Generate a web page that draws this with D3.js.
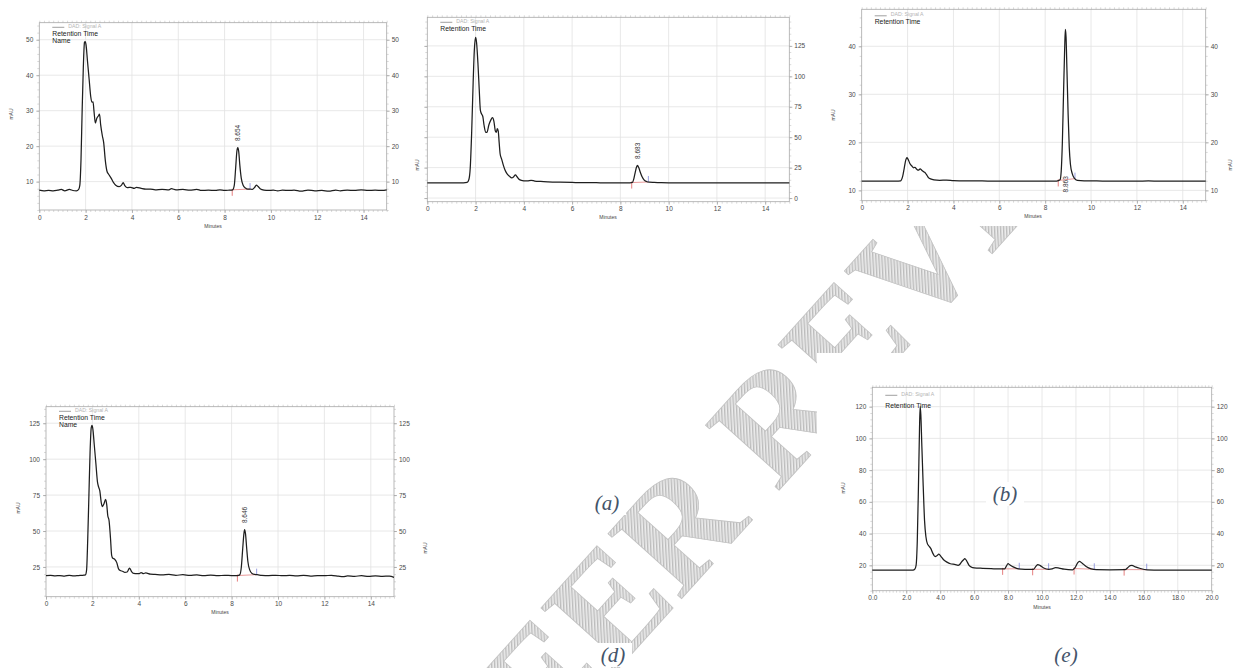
<!DOCTYPE html>
<html>
<head>
<meta charset="utf-8">
<script src="https://cdn.jsdelivr.net/npm/d3@7"></script>
<style>
  body { margin: 0; background: #ffffff; }
  svg { display: block; font-family: "Liberation Sans", Arial, sans-serif; }
</style>
</head>
<body>
<svg id="chart" width="1233" height="668"></svg>
<script>
// ---------------- DATA ----------------
const panelLabels = ["(a)", "(b)", "(d)", "(e)"];
const watermarkText = "PEER REVIEW";
const legendSeries = "DAD: Signal A";
const legendTitle = "Retention Time";
const legendName = "Name";
const xAxisTitle = "Minutes";
const yAxisTitle = "mAU";

const xTicks15 = [0, 2, 4, 6, 8, 10, 12, 14];
const xTicks20 = [0, 2, 4, 6, 8, 10, 12, 14, 16, 18, 20];
const yTicksA = [10, 20, 30, 40, 50];
const yTicksB = [0, 25, 50, 75, 100, 125];
const yTicksC = [10, 20, 30, 40];
const yTicksD = [25, 50, 75, 100, 125];
const yTicksE = [20, 40, 60, 80, 100, 120];

const peakLabelA = "8.654";
const peakLabelB = "8.683";
const peakLabelC = "8.863";
const peakLabelD = "8.646";

const peakStartA = [8.33], peakEndA = [9.1];
const peakStartB = [8.47], peakEndB = [9.16];
const peakStartC = [8.57], peakEndC = [9.3];
const peakStartD = [8.25], peakEndD = [9.08];
const peakStartE = [7.68, 9.45, 11.89, 14.84];
const peakEndE   = [8.66, 10.39, 13.08, 16.17];

// signal traces: [minutes, mAU]
const signalA = [[0,7.6],[0.2,7.4],[0.4,7.5],[0.6,7.4],[0.8,7.6],[0.95,7.8],[1.1,7.4],[1.3,7.8],[1.45,7.5],[1.6,7.4],
  [1.7,7.8],[1.75,9],[1.8,16],[1.85,30],[1.9,42],[1.95,49.2],[1.98,49.5],[2.02,48.5],[2.08,44],[2.15,39],
  [2.22,34],[2.27,32.4],[2.32,32.5],[2.36,30],[2.42,26.5],[2.48,27.8],[2.55,28.5],[2.6,29],[2.65,26],[2.72,23],
  [2.78,21],[2.85,16],[2.92,13],[3.0,12],[3.1,11],[3.2,9.8],[3.3,9],[3.45,8.6],[3.55,9],[3.62,9.7],
  [3.7,8.8],[3.8,8.3],[3.95,8.4],[4.1,8.1],[4.2,8.4],[4.4,8.1],[4.6,7.9],[4.8,7.9],[5.0,7.7],[5.3,7.8],
  [5.6,7.7],[5.7,8.0],[5.9,7.7],[6.2,7.8],[6.5,7.6],[6.8,7.8],[7.0,7.5],[7.3,7.6],[7.6,7.5],[7.8,7.7],
  [8.0,7.5],[8.2,7.6],[8.35,7.7],[8.42,9],[8.48,14],[8.53,18.5],[8.57,19.6],[8.61,18.5],[8.66,14.5],[8.72,11],
  [8.8,9],[8.9,8.2],[9.0,7.9],[9.1,7.9],[9.2,7.8],[9.3,8.4],[9.37,9.0],[9.45,8.6],[9.55,7.9],[9.7,7.6],
  [9.9,7.5],[10.1,7.6],[10.3,7.4],[10.5,7.6],[10.8,7.5],[11.0,7.6],[11.3,7.3],[11.6,7.6],[11.9,7.4],[12.2,7.5],
  [12.5,7.3],[12.8,7.6],[13.0,7.4],[13.3,7.6],[13.6,7.5],[13.9,7.7],[14.2,7.5],[14.5,7.6],[14.8,7.5],[15,7.7]];

const signalB = [[0,12.5],[0.5,12.5],[1.0,12.5],[1.5,12.5],[1.65,12.8],[1.72,15],[1.78,25],[1.84,55],[1.9,95],[1.95,122],
  [2.0,132],[2.04,128],[2.1,110],[2.15,90],[2.2,72],[2.25,69],[2.3,67],[2.35,60],[2.42,54],[2.47,54],
  [2.55,60],[2.63,64],[2.7,66],[2.76,63],[2.82,55],[2.86,54],[2.9,57],[2.94,55],[2.98,45],[3.02,36],
  [3.08,32],[3.15,27],[3.22,23],[3.3,20],[3.4,18],[3.5,16.5],[3.58,17.5],[3.65,19],[3.72,17.5],[3.8,15.5],
  [3.9,14.5],[4.0,14.2],[4.15,14.1],[4.3,14.6],[4.45,14],[4.7,13.6],[5.0,13.3],[5.5,13],[6.0,12.8],[6.5,12.7],
  [7.0,12.6],[7.5,12.5],[8.0,12.5],[8.4,12.5],[8.5,12.8],[8.56,16],[8.62,21.5],[8.67,25.5],[8.71,26.8],[8.76,25],
  [8.83,21],[8.9,17.5],[8.98,15],[9.08,13.6],[9.2,13],[9.4,12.8],[9.7,12.6],[10,12.5],[11,12.4],[12,12.4],
  [13,12.4],[14,12.4],[15,12.4]];

const signalC = [[0,11.9],[0.5,11.9],[1,11.9],[1.5,11.9],[1.7,12.0],[1.78,12.8],[1.85,14.5],[1.92,16.3],[1.97,16.8],[2.02,16.5],
  [2.1,15.6],[2.2,15.0],[2.26,14.7],[2.32,14.8],[2.4,14.4],[2.47,14.2],[2.55,14.5],[2.62,14.2],[2.7,13.9],[2.78,13.6],
  [2.85,13.1],[2.92,12.6],[3.0,12.4],[3.15,12.2],[3.4,12.1],[3.7,12.15],[4.0,12.05],[4.5,12.0],[5.0,12.0],[5.5,11.95],
  [6,11.95],[6.5,11.9],[7,11.95],[7.5,11.9],[8.0,11.9],[8.5,11.95],[8.65,12.2],[8.7,14],[8.75,20],[8.8,30],
  [8.85,39.5],[8.88,43.5],[8.91,42],[8.95,35],[9.0,26],[9.05,19],[9.1,15.5],[9.18,13.5],[9.28,12.5],[9.4,12.1],
  [9.7,12.0],[10,12.0],[10.5,11.95],[11,11.95],[12,11.9],[12.5,12.0],[13,11.9],[13.5,11.95],[14,11.9],[14.5,11.9],[15,11.9]];

const signalD = [[0,19],[0.2,19.2],[0.4,18.8],[0.6,19],[0.8,18.6],[1.0,19.2],[1.2,18.8],[1.4,19],[1.6,19.2],[1.7,19.5],
  [1.75,23],[1.8,45],[1.85,75],[1.9,105],[1.95,122],[1.98,123.5],[2.02,121],[2.08,110],[2.15,97],[2.22,84],
  [2.27,80.5],[2.32,78],[2.38,70],[2.43,67],[2.5,69],[2.57,72],[2.62,68],[2.66,61],[2.72,57],[2.78,45],
  [2.83,33],[2.88,31],[2.95,30.5],[3.05,28],[3.12,24],[3.2,22.5],[3.3,22],[3.4,21.2],[3.5,21.5],[3.6,24.2],
  [3.68,22],[3.78,20.5],[3.9,20.4],[4.0,20.3],[4.1,21],[4.2,20.4],[4.3,20.8],[4.5,20],[4.7,19.8],[5.0,19.5],
  [5.3,19.8],[5.6,19.2],[5.9,19.6],[6.2,19.1],[6.5,19.4],[6.8,19],[7.1,19.3],[7.4,18.9],[7.7,19.2],[8.0,19],
  [8.25,19],[8.35,19.5],[8.42,25],[8.48,38],[8.53,48],[8.56,51],[8.6,48],[8.65,38],[8.7,29],[8.78,23],
  [8.88,20.5],[9.0,19.8],[9.15,19.5],[9.3,19.2],[9.6,19],[9.9,19.2],[10.2,18.9],[10.5,19.1],[10.8,18.8],[11.1,19.1],
  [11.4,18.7],[11.7,19],[12.0,18.9],[12.3,19.2],[12.6,18.6],[12.8,18.2],[13.0,18.8],[13.3,18.5],[13.6,18.9],[13.9,18.4],
  [14.2,18.8],[14.5,18.5],[14.8,18.6],[15,17.8]];

const signalE = [[0,17],[1,17],[2,17],[2.4,17],[2.5,17.5],[2.58,20],[2.65,35],[2.72,70],[2.78,105],[2.82,120],
  [2.86,115],[2.92,95],[3.0,70],[3.08,48],[3.16,38],[3.25,33.5],[3.35,32],[3.45,30.5],[3.55,28],[3.7,25.5],
  [3.8,26],[3.92,27],[4.05,25.5],[4.2,23.5],[4.4,22],[4.6,21],[4.9,20.5],[5.05,20],[5.15,20.5],[5.25,22],
  [5.38,23.5],[5.45,24.2],[5.55,23],[5.7,20],[5.85,18.8],[6.0,18.4],[6.5,18.1],[7.0,17.9],[7.5,17.7],[7.8,17.8],
  [7.9,19.5],[8.0,21],[8.1,20.3],[8.3,19],[8.5,18.1],[8.8,17.6],[9.2,17.4],[9.5,17.5],[9.65,19.5],[9.75,20.5],
  [9.9,19.8],[10.1,18.3],[10.4,17.5],[10.6,17.8],[10.8,18.6],[11.0,18.3],[11.3,17.6],[11.8,17.2],[11.95,18.5],[12.1,21.5],
  [12.2,22.5],[12.35,21.5],[12.6,19.3],[12.9,17.8],[13.2,17.3],[14,17.2],[14.9,17.3],[15.05,18.5],[15.2,19.8],[15.3,20],
  [15.5,19],[15.8,18],[16.2,17.2],[17,17],[18,17],[19,17],[20,17]];

// ---------------- LAYOUT ----------------
const panels = [
  { data: signalA, xDomain: [0, 15], yDomain: [2, 54.8], xTicks: xTicks15, yTicks: yTicksA, fmt: d3.format("d"),
    x0: 39.3, x1: 386.7, y0: 22.7, y1: 210, box: [0, 0, 408, 236], leftLabels: true, rightLabels: true,
    legendLines: [legendTitle, legendName], dadDy: 3.8, rtDy: 12.8,
    peakText: peakLabelA, peakBelow: false, starts: peakStartA, ends: peakEndA,
    mauL: [11, 114], mauR: null, minutes: [213, 226] },
  { data: signalB, xDomain: [0, 15], yDomain: [-3, 148.5], xTicks: xTicks15, yTicks: yTicksB, fmt: d3.format("d"),
    x0: 427.3, x1: 789.3, y0: 17.3, y1: 201.7, box: [408, 0, 408, 229], leftLabels: false, rightLabels: true,
    legendLines: [legendTitle], dadDy: 4.2, rtDy: 13.2,
    peakText: peakLabelB, peakBelow: false, starts: peakStartB, ends: peakEndB,
    mauL: [417, 165], mauR: [820, 162], minutes: [608, 217] },
  { data: signalC, xDomain: [0, 15], yDomain: [7.85, 47.7], xTicks: xTicks15, yTicks: yTicksC, fmt: d3.format("d"),
    x0: 861.7, x1: 1205.7, y0: 9.3, y1: 200.7, box: [816, 0, 417, 226], leftLabels: true, rightLabels: true,
    legendLines: [legendTitle], dadDy: 5.7, rtDy: 14.2,
    peakText: peakLabelC, peakBelow: true, starts: peakStartC, ends: peakEndC,
    mauL: [833, 115], mauR: [1230, 165], minutes: [1033, 216] },
  { data: signalD, xDomain: [0, 15], yDomain: [4.3, 136.5], xTicks: xTicks15, yTicks: yTicksD, fmt: d3.format("d"),
    x0: 46, x1: 394, y0: 406.7, y1: 596.7, box: [0, 392, 432, 232], leftLabels: true, rightLabels: true,
    legendLines: [legendTitle, legendName], dadDy: 3.8, rtDy: 12.8,
    peakText: peakLabelD, peakBelow: false, starts: peakStartD, ends: peakEndD,
    mauL: [18, 508], mauR: [425, 548], minutes: [220, 612] },
  { data: signalE, xDomain: [0, 20], yDomain: [4, 132.2], xTicks: xTicks20, yTicks: yTicksE, fmt: d3.format(".1f"),
    x0: 872.3, x1: 1211.7, y0: 387.3, y1: 590.7, box: [817, 353, 416, 266], leftLabels: true, rightLabels: true,
    legendLines: [legendTitle], dadDy: 7.2, rtDy: 20.2,
    peakText: null, peakBelow: false, starts: peakStartE, ends: peakEndE,
    mauL: [843, 488], mauR: null, minutes: [1042, 607] }
];

const labelPos = [[607, 503], [1005, 494], [613, 655], [1066, 655]];

// ---------------- DRAW ----------------
const svg = d3.select("#chart");
const defs = svg.append("defs");
const pat = defs.append("pattern").attr("id", "hatch").attr("patternUnits", "userSpaceOnUse")
  .attr("width", 3).attr("height", 3).attr("patternTransform", "rotate(45)");
pat.append("rect").attr("width", 3).attr("height", 3).attr("fill", "#ececec");
pat.append("line").attr("x1", 0.75).attr("y1", 0).attr("x2", 0.75).attr("y2", 3)
  .attr("stroke", "#b0b0b0").attr("stroke-width", 1.1);

// watermark (behind panels)
svg.append("text").text(watermarkText)
  .attr("transform", "translate(484,818) rotate(-48)")
  .attr("font-family", "'Liberation Serif', 'Times New Roman', serif")
  .attr("font-weight", "bold")
  .attr("font-size", 150)
  .attr("fill", "url(#hatch)")
  .attr("stroke", "#c2c2c2").attr("stroke-width", 0.8);

function valueAt(data, t) {
  const i = d3.bisector(d => d[0]).left(data, t);
  if (i <= 0) return data[0][1];
  if (i >= data.length) return data[data.length - 1][1];
  const a = data[i - 1], b = data[i];
  return a[1] + (b[1] - a[1]) * (t - a[0]) / (b[0] - a[0]);
}

function drawPanel(p) {
  const g = svg.append("g");
  g.append("rect").attr("x", p.box[0]).attr("y", p.box[1]).attr("width", p.box[2]).attr("height", p.box[3])
    .attr("fill", "#ffffff");

  const x = d3.scaleLinear().domain(p.xDomain).range([p.x0, p.x1]);
  const y = d3.scaleLinear().domain(p.yDomain).range([p.y1, p.y0]);

  // grid
  g.append("g").selectAll("line").data(p.xTicks.filter(t => t > p.xDomain[0] && t < p.xDomain[1])).join("line")
    .attr("x1", d => x(d)).attr("x2", d => x(d)).attr("y1", p.y0).attr("y2", p.y1)
    .attr("stroke", "#e2e2e2").attr("stroke-width", 0.8);
  g.append("g").selectAll("line").data(p.yTicks).join("line")
    .attr("x1", p.x0).attr("x2", p.x1).attr("y1", d => y(d)).attr("y2", d => y(d))
    .attr("stroke", "#e2e2e2").attr("stroke-width", 0.8);

  // minor ticks
  const xStep = (p.xTicks[1] - p.xTicks[0]) / 10;
  const xMinor = d3.range(p.xDomain[0], p.xDomain[1] + 1e-9, xStep);
  const yStep = (p.yTicks[1] - p.yTicks[0]) / 5;
  const yMinor = d3.range(Math.ceil(p.yDomain[0] / yStep) * yStep, p.yDomain[1], yStep);

  function styleAxis(sel) {
    sel.select(".domain").remove();
    sel.selectAll(".tick line").attr("stroke", "#9a9a9a").attr("stroke-width", 0.7);
    sel.selectAll(".tick text").attr("fill", "#4a4a4a").attr("font-size", 6.5);
  }
  const minorStyle = sel => { sel.select(".domain").remove(); sel.selectAll(".tick line").attr("stroke", "#b5b5b5").attr("stroke-width", 0.5); };

  g.append("g").attr("transform", `translate(0,${p.y1})`)
    .call(d3.axisBottom(x).tickValues(xMinor).tickSize(2).tickFormat("")).call(minorStyle);
  g.append("g").attr("transform", `translate(0,${p.y0})`)
    .call(d3.axisTop(x).tickValues(xMinor).tickSize(2).tickFormat("")).call(minorStyle);
  g.append("g").attr("transform", `translate(${p.x0},0)`)
    .call(d3.axisLeft(y).tickValues(yMinor).tickSize(2).tickFormat("")).call(minorStyle);
  g.append("g").attr("transform", `translate(${p.x1},0)`)
    .call(d3.axisRight(y).tickValues(yMinor).tickSize(2).tickFormat("")).call(minorStyle);

  g.append("g").attr("transform", `translate(0,${p.y1})`)
    .call(d3.axisBottom(x).tickValues(p.xTicks).tickSize(3).tickPadding(2).tickFormat(p.fmt)).call(styleAxis);
  g.append("g").attr("transform", `translate(${p.x0},0)`)
    .call(d3.axisLeft(y).tickValues(p.yTicks).tickSize(3).tickPadding(3)
      .tickFormat(p.leftLabels ? d3.format("d") : "")).call(styleAxis);
  g.append("g").attr("transform", `translate(${p.x1},0)`)
    .call(d3.axisRight(y).tickValues(p.yTicks).tickSize(3).tickPadding(2)
      .tickFormat(p.rightLabels ? d3.format("d") : "")).call(styleAxis);

  // frame
  g.append("rect").attr("x", p.x0).attr("y", p.y0).attr("width", p.x1 - p.x0).attr("height", p.y1 - p.y0)
    .attr("fill", "none").attr("stroke", "#a8a8a8").attr("stroke-width", 0.8);

  // integration markers
  p.starts.forEach((s, i) => {
    const e = p.ends[i];
    const vs = valueAt(p.data, s), ve = valueAt(p.data, e);
    g.append("line").attr("x1", x(s)).attr("y1", y(vs)).attr("x2", x(e)).attr("y2", y(ve))
      .attr("stroke", "#e07070").attr("stroke-width", 0.7);
    g.append("line").attr("x1", x(s)).attr("x2", x(s)).attr("y1", y(vs) - 1).attr("y2", y(vs) + 6)
      .attr("stroke", "#e06060").attr("stroke-width", 0.8);
    g.append("line").attr("x1", x(e)).attr("x2", x(e)).attr("y1", y(ve) - 6).attr("y2", y(ve))
      .attr("stroke", "#7f86d8").attr("stroke-width", 0.8);
  });

  // trace
  const line = d3.line().x(d => x(d[0])).y(d => y(d[1])).curve(d3.curveMonotoneX);
  g.append("path").datum(p.data).attr("d", line)
    .attr("fill", "none").attr("stroke", "#1e1e1e").attr("stroke-width", 1.25).attr("stroke-linejoin", "round");

  // peak label
  if (p.peakText) {
    const s = p.starts[0], e = p.ends[0];
    const inPeak = p.data.filter(d => d[0] >= s && d[0] <= e);
    const apex = d3.greatest(inPeak, d => d[1]);
    const px = x(apex[0]);
    const py = p.peakBelow ? y(valueAt(p.data, s)) + 12 : y(apex[1]) - 6.5;
    g.append("text").text(p.peakText)
      .attr("transform", `translate(${px + 2.3},${py}) rotate(-90)`)
      .attr("font-size", 6.5).attr("fill", "#333");
  }

  // legend
  const lx = p.x0 + 13;
  g.append("line").attr("x1", lx).attr("x2", lx + 12).attr("y1", p.y0 + p.dadDy + 0.8).attr("y2", p.y0 + p.dadDy + 0.8)
    .attr("stroke", "#777").attr("stroke-width", 0.7);
  g.append("text").text(legendSeries).attr("x", lx + 16).attr("y", p.y0 + p.dadDy + 1)
    .attr("font-size", 5.2).attr("fill", "#b4b4b4");
  p.legendLines.forEach((t, i) => {
    g.append("text").text(t).attr("x", lx).attr("y", p.y0 + p.rtDy + i * 7)
      .attr("font-size", 6.8).attr("fill", "#222");
  });

  // axis titles
  const mau = pos => g.append("text").text(yAxisTitle)
    .attr("transform", `translate(${pos[0]},${pos[1]}) rotate(-90)`)
    .attr("text-anchor", "middle").attr("dy", "0.35em").attr("font-size", 5).attr("fill", "#444");
  if (p.mauL) mau(p.mauL);
  if (p.mauR) mau(p.mauR);
  g.append("text").text(xAxisTitle).attr("x", p.minutes[0]).attr("y", p.minutes[1]).attr("dy", "0.35em")
    .attr("text-anchor", "middle").attr("font-size", 5).attr("fill", "#444");
}

panels.forEach(drawPanel);

// sub-figure labels
panelLabels.forEach((lab, i) => {
  const [cx, cy] = labelPos[i];
  svg.append("rect").attr("x", cx - 19).attr("y", cy - 12).attr("width", 38).attr("height", 24).attr("fill", "#ffffff");
  svg.append("text").text(lab).attr("x", cx).attr("y", cy).attr("dy", "0.33em")
    .attr("text-anchor", "middle")
    .attr("font-family", "'Liberation Serif', 'DejaVu Serif', serif")
    .attr("font-style", "italic").attr("font-size", 21).attr("fill", "#44546a");
});
</script>
</body>
</html>
